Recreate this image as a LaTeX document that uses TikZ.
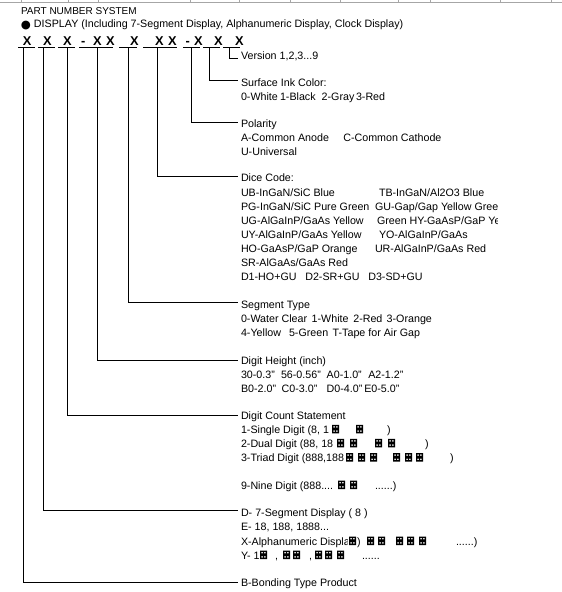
\documentclass[tikz,border=0pt]{standalone}
\usepackage{fontspec}
\setmainfont{Liberation Sans}
\newfontfamily\dejavu{DejaVu Sans}
\tikzset{
  lbl/.style={anchor=base west, inner sep=0pt, outer sep=0pt},
  bigx/.style={lbl, font=\fontsize{12.8}{14}\selectfont\bfseries},
  conn/.style={draw=black, line width=1pt},
  uline/.style={draw=black, line width=0.9pt},
  gridln/.style={draw=black!35, line width=0.8pt},
  gbox/.pic={
    \fill[white] (-0.6,0.6) rectangle (7.6,-9.1);
    \fill[black,even odd rule] (0,0) rectangle (7,-8.5)
      (1.3,-1.4) rectangle (2.8,-2.9) (4.2,-1.4) rectangle (5.7,-2.9)
      (1.3,-5.6) rectangle (2.8,-7.1) (4.2,-5.6) rectangle (5.7,-7.1);
  }
}
\begin{document}
\begin{tikzpicture}[x=1pt,y=-1pt,font=\fontsize{10.7}{12}\selectfont]
\useasboundingbox (0,0) rectangle (562,592);
% spreadsheet grid line at the top
\draw[gridln] (0,2) -- (562,2);
\foreach \gx in {21.6,68.4,98,190,239.5,290,340,398,430,500.7,551}
  \draw[gridln] (\gx,0) -- (\gx,2);

% heading
\node[lbl, font=\fontsize{10}{12}\selectfont] (title) at (21,14) {PART NUMBER SYSTEM};
\node[lbl, font=\dejavu\fontsize{11.5}{12}\selectfont] (bul) at (20.8,28.3) {●};
\node[lbl] (disp) at (34,27.5) {DISPLAY (Including 7-Segment Display, Alphanumeric Display, Clock Display)};

% part number letters
\node[bigx] (x1) at (23,45) {X};
\node[bigx] (x2) at (43,45) {X};
\node[bigx] (x3) at (63,45) {X};
\node[bigx] (d1) at (81,45) {-};
\node[bigx] (x4) at (93,45) {X};
\node[bigx] (x5) at (106,45) {X};
\node[bigx] (x6) at (130,45) {X};
\node[bigx] (x7) at (155,45) {X};
\node[bigx] (x8) at (168,45) {X};
\node[bigx] (d2) at (185.5,45) {-};
\node[bigx] (x9) at (194,45) {X};
\node[bigx] (x10) at (214,45) {X};
\node[bigx] (x11) at (235,45) {X};

% underlines
\draw[uline] (18,47) -- (35,47);
\draw[uline] (38,47) -- (55,47);
\draw[uline] (58,47) -- (75,47);
\draw[uline] (79,47) -- (113,47);
\draw[uline] (119,47) -- (137,47);
\draw[uline] (143,47) -- (177,47);
\draw[uline] (183,47) -- (200,47);
\draw[uline] (203,47) -- (220,47);
\draw[uline] (223,47) -- (240,47);

% connector ends
\coordinate (v1) at (23,47);   \coordinate (h1) at (238,582);
\coordinate (v2) at (43,47);   \coordinate (h2) at (238,510);
\coordinate (v3) at (67,47);   \coordinate (h3) at (238,415);
\coordinate (v4) at (97,47);   \coordinate (h4) at (238,360);
\coordinate (v5) at (128,47);  \coordinate (h5) at (238,302.3);
\coordinate (v6) at (157,47);  \coordinate (h6) at (238,176);
\coordinate (v7) at (191,47);  \coordinate (h7) at (238,122.3);
\coordinate (v8) at (209,47);  \coordinate (h8) at (238,80);
\coordinate (v9) at (229.5,47);\coordinate (h9) at (238,58.5);
\foreach \i in {1,...,9} \draw[conn] (v\i) |- (h\i);

% Version
\node[lbl] (ver) at (241,59) {Version 1,2,3...9};

% Surface ink colour
\node[lbl] (ink) at (241,86) {Surface Ink Color:};
\node[lbl] (ink1) at (241,100) {0-White};
\node[lbl] (ink2) at (280,100) {1-Black};
\node[lbl] (ink3) at (321.7,100) {2-Gray};
\node[lbl] (ink4) at (356,100) {3-Red};

% Polarity
\node[lbl] (pol) at (241,127.3) {Polarity};
\node[lbl] (pol1) at (241,141) {A-Common Anode};
\node[lbl] (pol2) at (343.3,141) {C-Common Cathode};
\node[lbl] (pol3) at (241,155) {U-Universal};

% Dice code
\node[lbl] (dice) at (241,181.7) {Dice Code:};
\node[lbl] (dc1) at (241,196) {UB-InGaN/SiC Blue};
\node[lbl] (dc2) at (379,196) {TB-InGaN/Al2O3 Blue};
\node[lbl] (dc3) at (241,210) {PG-InGaN/SiC Pure Green};
\node[lbl] (dc5) at (241,224) {UG-AlGaInP/GaAs Yellow};
\begin{scope}
  \clip (360,198) rectangle (497,230);
  \node[lbl] (dc4) at (375,210) {GU-Gap/Gap Yellow Gree};
  \node[lbl] (dc6) at (377,224) {Green HY-GaAsP/GaP Ye};
\end{scope}
\node[lbl] (dc7) at (241,238) {UY-AlGaInP/GaAs Yellow};
\node[lbl] (dc8) at (379,238) {YO-AlGaInP/GaAs};
\node[lbl] (dc9) at (241,252) {HO-GaAsP/GaP Orange};
\node[lbl] (dc10) at (375,252) {UR-AlGaInP/GaAs Red};
\node[lbl] (dc11) at (241,266) {SR-AlGaAs/GaAs Red};
\node[lbl] (dc12) at (241,280) {D1-HO+GU};
\node[lbl] (dc13) at (305.3,280) {D2-SR+GU};
\node[lbl] (dc14) at (368.3,280) {D3-SD+GU};

% Segment type
\node[lbl] (seg) at (241,308.3) {Segment Type};
\node[lbl] (sg1) at (241,322.3) {0-Water Clear};
\node[lbl] (sg2) at (311.7,322.3) {1-White};
\node[lbl] (sg3) at (353.3,322.3) {2-Red};
\node[lbl] (sg4) at (386.7,322.3) {3-Orange};
\node[lbl] (sg5) at (241,336.3) {4-Yellow};
\node[lbl] (sg6) at (289,336.3) {5-Green};
\node[lbl] (sg7) at (332.7,336.3) {T-Tape for Air Gap};

% Digit height
\node[lbl] (dh) at (241,364.3) {Digit Height (inch)};
\node[lbl] (dh1) at (241,378.3) {30-0.3"};
\node[lbl] (dh2) at (281,378.3) {56-0.56"};
\node[lbl] (dh3) at (326.7,378.3) {A0-1.0"};
\node[lbl] (dh4) at (368.3,378.3) {A2-1.2"};
\node[lbl] (dh5) at (241,392.3) {B0-2.0"};
\node[lbl] (dh6) at (281.7,392.3) {C0-3.0"};
\node[lbl] (dh7) at (326.7,392.3) {D0-4.0"};
\node[lbl] (dh8) at (364.3,392.3) {E0-5.0"};

% Digit count
\node[lbl] (cnt) at (241,419.3) {Digit Count Statement};
\node[lbl] (cn1) at (241,433.3) {1-Single Digit (8, 1};
\pic at (332,433.3) {gbox};
\pic at (356,433.3) {gbox};
\node[lbl] (cn1e) at (387,433.3) {)};
\node[lbl] (cn2) at (241,447.3) {2-Dual Digit (88, 18};
\pic at (337,447.3) {gbox};
\pic at (350,447.3) {gbox};
\pic at (375,447.3) {gbox};
\pic at (388,447.3) {gbox};
\node[lbl] (cn2e) at (425,447.3) {)};
\node[lbl] (cn3) at (241,461.5) {3-Triad Digit (888,188};
\pic at (346,461.5) {gbox};
\pic at (358,461.5) {gbox};
\pic at (370,461.5) {gbox};
\pic at (393,461.5) {gbox};
\pic at (405,461.5) {gbox};
\pic at (416,461.5) {gbox};
\node[lbl] (cn3e) at (450,461.5) {)};
\node[lbl] (cn9) at (241,489) {9-Nine Digit (888....};
\pic at (338,489) {gbox};
\pic at (350,489) {gbox};
\node[lbl] (cn9e) at (375,489) {......)};

% 7-segment
\node[lbl] (sv) at (241,516.7) {D- 7-Segment Display ( 8 )};
\node[lbl] (sv2) at (241,530.7) {E- 18, 188, 1888...};
\node[lbl] (sv3) at (241,545) {X-Alphanumeric Displa};
\pic at (349,545) {gbox};
\node[lbl] (sv3b) at (357,545) {)};
\pic at (367,545) {gbox};
\pic at (378,545) {gbox};
\pic at (396,545) {gbox};
\pic at (407,545) {gbox};
\pic at (419,545) {gbox};
\node[lbl] (sv3e) at (456,545) {......)};
\node[lbl] (sv4) at (241,559) {Y- 1};
\pic at (260,559) {gbox};
\node[lbl] (sv4b) at (275,559) {,};
\pic at (283,559) {gbox};
\pic at (293,559) {gbox};
\node[lbl] (sv4c) at (309,559) {,};
\pic at (315,559) {gbox};
\pic at (325,559) {gbox};
\pic at (337,559) {gbox};
\node[lbl] (sv4e) at (362,559) {......};

% Bonding
\node[lbl] (bond) at (241,586.7) {B-Bonding Type Product};
\end{tikzpicture}
\end{document}
